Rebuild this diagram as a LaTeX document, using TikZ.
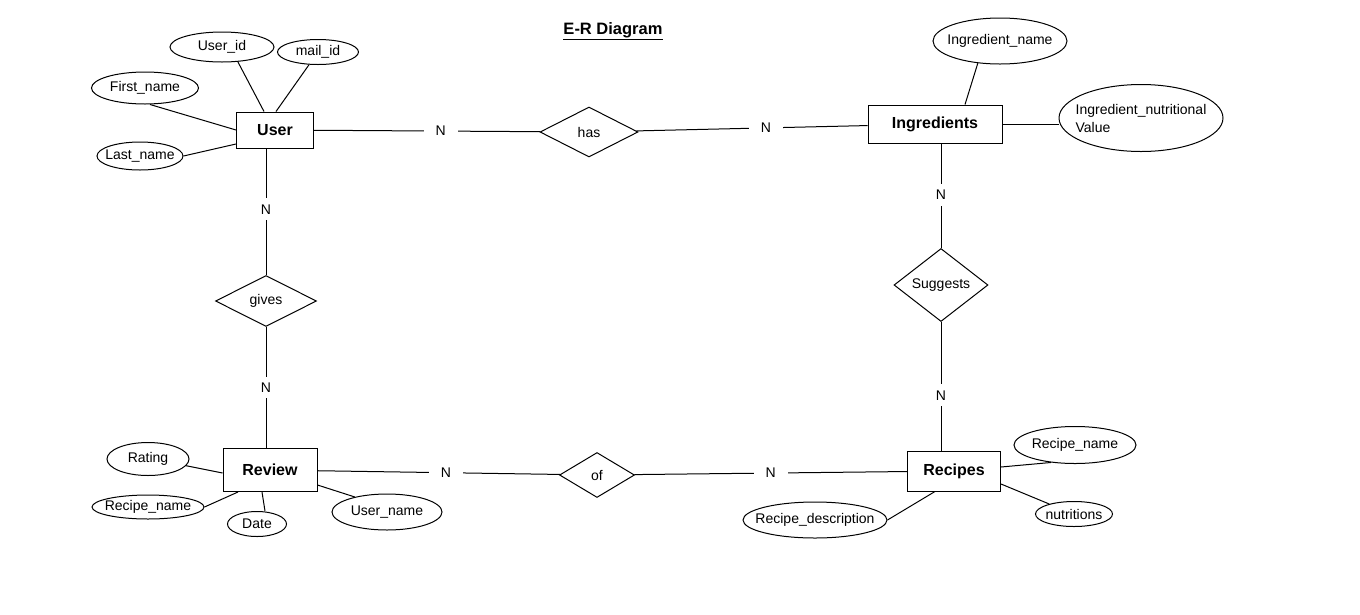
\documentclass[tikz,border=0pt]{standalone}
\usepackage{fontspec}
\setmainfont{Liberation Sans}
\usetikzlibrary{shapes.geometric}

\begin{document}
\begin{tikzpicture}[x=1pt,y=-1pt,line width=1pt,
    entity/.style={draw,rectangle,inner sep=0pt,font=\fontsize{16}{19}\selectfont\bfseries},
    attrib/.style={draw,ellipse,inner xsep=-12pt,inner ysep=0pt,font=\fontsize{14}{18}\selectfont},
    relation/.style={draw,diamond,inner sep=0pt,font=\fontsize{14}{18}\selectfont},
    card/.style={fill=white,inner xsep=12pt,inner ysep=6pt,font=\fontsize{14}{18}\selectfont}]
    \useasboundingbox (0,0) rectangle (1360,614);

    % Title
    \node[anchor=base,font=\fontsize{16.5}{19}\selectfont\bfseries] (title) at (613,34) {\underline{E-R Diagram}};

    % User
    \node[entity,minimum width=77,minimum height=36] (user) at (275,130) {User};
    \node[attrib,minimum width=104,minimum height=30] (userid) at (222,47) {User\_id};
    \node[attrib,minimum width=81,minimum height=25] (mailid) at (318,52) {mail\_id};
    \node[attrib,minimum width=107,minimum height=32] (firstname) at (145,88) {First\_name};
    \node[attrib,minimum width=86,minimum height=28] (lastname) at (140,156) {Last\_name};
    \draw (userid.-43) -- ([xshift=-11]user.north);
    \draw (mailid) -- ([xshift=1]user.north);
    \draw ([xshift=5]firstname.south) -- (user.west);
    \draw (lastname.east) -- ([yshift=-14]user.west);

    % Ingredients
    \node[entity,minimum width=134,minimum height=38] (ingredients) at (935,124) {Ingredients};
    \node[attrib,minimum width=134,minimum height=46] (ingname) at (1000,41) {Ingredient\_name};
    \node[attrib,minimum width=164,minimum height=67,align=left] (nutval) at (1141,118) {Ingredient\_nutritional\\Value};
    \draw (ingname.-135) -- ([xshift=30]ingredients.north);
    \draw (ingredients.east) -- (ingredients.east -| nutval.west);

    % Review
    \node[entity,minimum width=94,minimum height=43] (review) at (270,470) {Review};
    \node[attrib,minimum width=82,minimum height=33] (rating) at (148,459) {Rating};
    \node[attrib,minimum width=112,minimum height=24] (revrecipe) at (148,507) {Recipe\_name};
    \node[attrib,minimum width=59,minimum height=25] (date) at (257,524) {Date};
    \node[attrib,minimum width=110,minimum height=36] (username) at (387,512) {User\_name};
    \draw (rating.-10) -- ([yshift=-3]review.west);
    \draw (revrecipe.east) -- ([xshift=-32]review.south);
    \draw ([xshift=8]date.north) -- ([xshift=-8]review.south);
    \draw ([yshift=-15]review.east) -- (username.155);

    % Recipes
    \node[entity,minimum width=93,minimum height=40] (recipes) at (954,471) {Recipes};
    \node[attrib,minimum width=122,minimum height=37] (recname) at (1075,445) {Recipe\_name};
    \node[attrib,minimum width=77,minimum height=25] (nutritions) at (1074,514) {nutritions};
    \node[attrib,minimum width=144,minimum height=36] (recdesc) at (815,520) {Recipe\_description};
    \draw ([yshift=4]recipes.east) -- (recname.-144);
    \draw ([yshift=-13]recipes.east) -- (nutritions.158);
    \draw (recdesc.east) -- ([xshift=-19]recipes.south);

    % Relationships
    \node[relation,minimum width=98,minimum height=50] (has) at (589,132) {has};
    \node[relation,minimum width=101,minimum height=51] (gives) at (266,301) {gives};
    \node[relation,minimum width=75,minimum height=45] (of) at (597,475) {of};
    \node[relation,minimum width=94,minimum height=73] (suggests) at (941,285) {Suggests};

    \draw (user) -- node[card,pos=0.56] {N} (has);
    \draw (has) -- node[card,pos=0.56] {N} (ingredients);
    \draw (user.south -| gives.north) -- node[card,pos=0.48] {N} (gives.north);
    \draw (gives.south) -- node[card] {N} (gives.south |- review.north);
    \draw (review) -- node[card,pos=0.53] {N} (of);
    \draw (of) -- node[card] {N} (recipes);
    \draw (ingredients.south -| suggests.north) -- node[card,pos=0.49] {N} (suggests.north);
    \draw (suggests.south) -- node[card,pos=0.57] {N} (suggests.south |- recipes.north);
\end{tikzpicture}
\end{document}
